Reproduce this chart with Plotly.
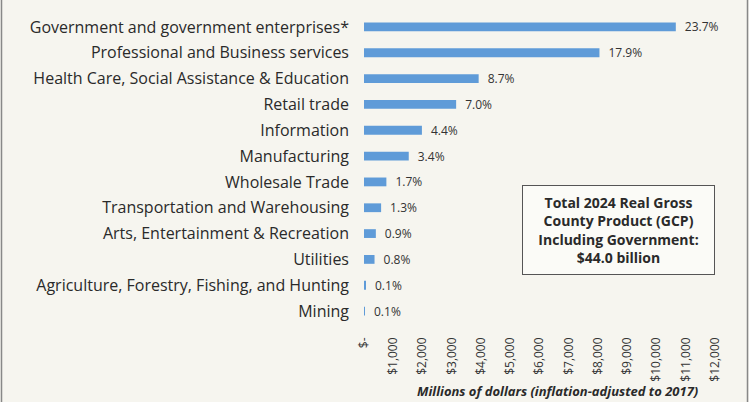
import plotly.graph_objects as go

categories = [
    "Government and government enterprises*",
    "Professional and Business services",
    "Health Care, Social Assistance & Education",
    "Retail trade",
    "Information",
    "Manufacturing",
    "Wholesale Trade",
    "Transportation and Warehousing",
    "Arts, Entertainment & Recreation",
    "Utilities",
    "Agriculture, Forestry, Fishing, and Hunting",
    "Mining",
]
values_musd = [10660, 8050, 3920, 3150, 1980, 1530, 765, 585, 405, 360, 45, 10]
share_labels = ["23.7%", "17.9%", "8.7%", "7.0%", "4.4%", "3.4%", "1.7%", "1.3%",
                "0.9%", "0.8%", "0.1%", "0.1%"]
tick_vals = [0, 1000, 2000, 3000, 4000, 5000, 6000, 7000, 8000, 9000, 10000, 11000, 12000]
tick_text = ["$-", "$1,000", "$2,000", "$3,000", "$4,000", "$5,000", "$6,000", "$7,000",
             "$8,000", "$9,000", "$10,000", "$11,000", "$12,000"]
x_title = "Millions of dollars (inflation-adjusted to 2017)"
box_text = "Total 2024 Real Gross<br>County Product (GCP)<br>Including Government:<br>$44.0 billion"

W, H = 749, 402
ML, MR, MT, MB = 364, 34, 14, 78
FONT = "Open Sans"
BG = "#f6f5ef"
pw = W - ML - MR
ph = H - MT - MB

fig = go.Figure(go.Bar(
    x=values_musd, y=categories, orientation="h",
    marker=dict(color="#5f9bd8", line=dict(width=0)),
    width=0.34,
    text=share_labels, texttemplate="\u2002%{text}",
    textposition="outside", constraintext="none",
    textfont=dict(family=FONT, size=12, color="#333333"),
    cliponaxis=False, hoverinfo="skip",
))

for px in (1.5, 747.5):
    fig.add_shape(type="line", xref="paper", yref="paper",
                  x0=(px - ML) / pw, x1=(px - ML) / pw, y0=-MB / ph, y1=1 + MT / ph,
                  line=dict(color="#888888", width=1.5))

fig.add_annotation(
    x=(618 - ML) / pw, y=1 - (230 - MT) / ph, xref="paper", yref="paper",
    xanchor="center", yanchor="middle",
    text="<b>" + box_text + "</b>", showarrow=False,
    width=179, height=76,
    font=dict(family=FONT, size=14, color="#2a2a2a"),
    align="center", valign="middle", bordercolor="#555555", borderwidth=1, borderpad=6,
    bgcolor="#fbfbf7",
)
fig.add_annotation(
    x=(557 - ML) / pw, y=1 - (391 - MT) / ph, xref="paper", yref="paper",
    xanchor="center", yanchor="middle",
    text="<b><i>" + x_title + "</i></b>", showarrow=False,
    font=dict(family=FONT, size=13, color="#2a2a2a"),
)

fig.update_layout(
    width=W, height=H,
    margin=dict(l=ML, r=MR, t=MT, b=MB),
    paper_bgcolor=BG, plot_bgcolor=BG,
    showlegend=False,
    bargap=0.6,
    xaxis=dict(range=[0, 12000], tickvals=tick_vals, ticktext=tick_text, tickangle=-90,
               showgrid=False, zeroline=False, showline=False, ticks="", automargin=False,
               ticklabelstandoff=10,
               tickfont=dict(family=FONT, size=12, color="#333333")),
    yaxis=dict(autorange="reversed", showgrid=False, zeroline=False, showline=False,
               ticks="", ticklabelstandoff=14, automargin=False,
               tickfont=dict(family=FONT, size=16, color="#2a2a2a")),
)

fig.write_html("out.html", config={"displayModeBar": False},
               post_script="document.body.style.margin='0';")
